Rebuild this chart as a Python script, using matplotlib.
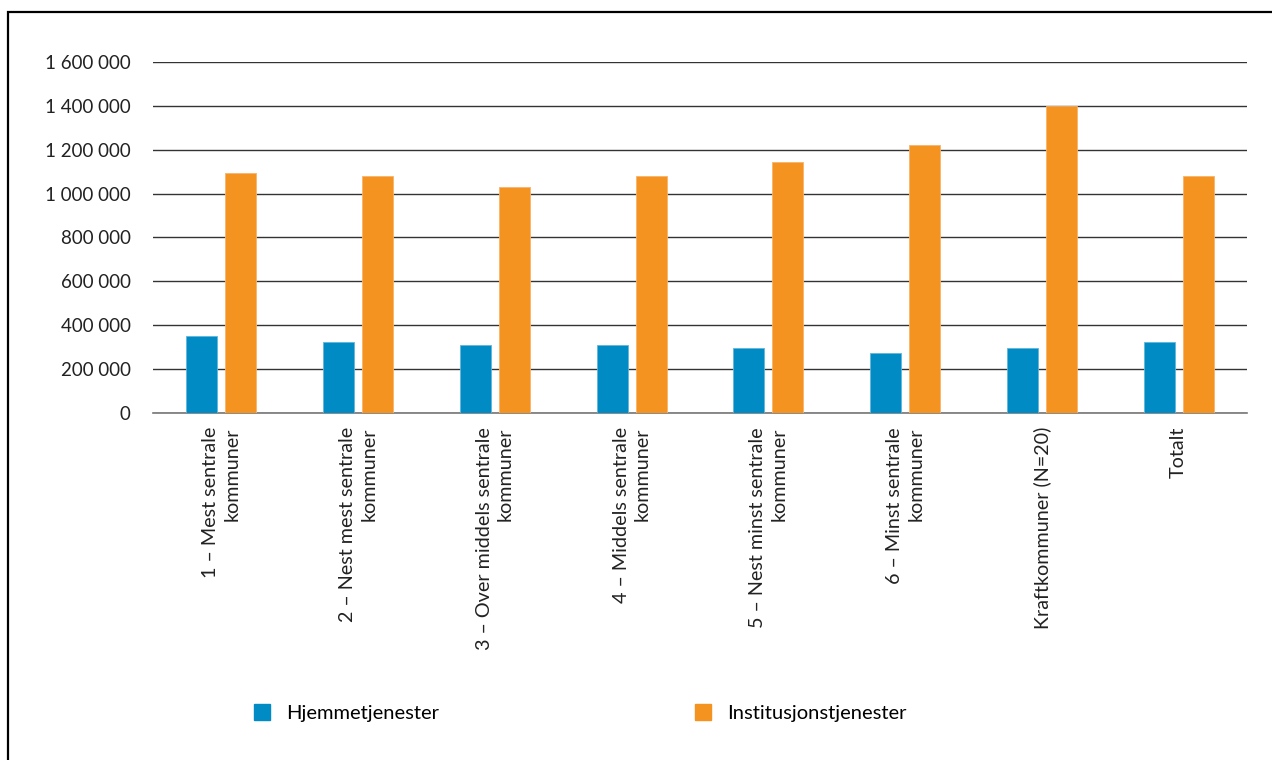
import matplotlib
matplotlib.use('Agg')
import matplotlib.pyplot as plt
import matplotlib.patches as mpatches
import numpy as np

plt.rcParams['font.family'] = ['Lato', 'DejaVu Sans']

# Kategorier og verdier (lest av figuren)
categories = [
    '1 – Mest sentrale\nkommuner',
    '2 – Nest mest sentrale\nkommuner',
    '3 – Over middels sentrale\nkommuner',
    '4 – Middels sentrale\nkommuner',
    '5 – Nest minst sentrale\nkommuner',
    '6 – Minst sentrale\nkommuner',
    'Kraftkommuner (N=20)',
    'Totalt',
]
hjemme = [351000, 323000, 310000, 310000, 297000, 272000, 297000, 322000]
institusjon = [1092000, 1080000, 1028000, 1080000, 1142000, 1220000, 1400000, 1080000]
yticks = [0, 200000, 400000, 600000, 800000, 1000000, 1200000, 1400000, 1600000]

blue = '#008bc4'
orange = '#f49320'

fig = plt.figure(figsize=(12.72, 7.6), dpi=100)
ax = fig.add_axes([153 / 1272, 1 - 413 / 760, (1247 - 153) / 1272, (413 - 62) / 760])

x = np.arange(len(categories))
w = 0.227
off = 0.142
ax.bar(x - off, hjemme, width=w, color=blue, edgecolor='#5fb6dc', linewidth=0.6,
       label='Hjemmetjenester', zorder=3)
ax.bar(x + off, institusjon, width=w, color=orange, edgecolor='#f8b36a', linewidth=0.6,
       label='Institusjonstjenester', zorder=3)

ax.set_xlim(-0.5, len(categories) - 0.5)
ax.set_ylim(0, 1600000)
ax.set_yticks(yticks)
ax.set_yticklabels([f'{v:,}'.replace(',', ' ') for v in yticks], fontsize=13.5, color='#222222')
ax.yaxis.grid(True, color='#333333', linewidth=1.0, zorder=0)
ax.tick_params(axis='y', length=0, pad=16)
ax.tick_params(axis='x', length=0)
ax.set_xticks(x)
ax.set_xticklabels([])
for s in ['top', 'right', 'left']:
    ax.spines[s].set_visible(False)
ax.spines['bottom'].set_color('#777777')
ax.spines['bottom'].set_linewidth(1.2)

for xi, lab in zip(x, categories):
    ax.text(xi, -0.04, lab, transform=ax.get_xaxis_transform(), rotation=90,
            ha='center', va='top', multialignment='right', fontsize=14.2,
            color='#222222', linespacing=1.3)

handles = [mpatches.Patch(color=blue, label='Hjemmetjenester'),
           mpatches.Patch(color=orange, label='Institusjonstjenester')]
fig.legend(handles=handles, loc='center left', bbox_to_anchor=(236 / 1272, 1 - 713 / 760),
           ncol=2, frameon=False, fontsize=14.5, handlelength=0.8, handleheight=0.8,
           handletextpad=0.8, columnspacing=12.7)

# ramme rundt figuren
frame = mpatches.Rectangle((8 / 1272, -0.1), 1.2, 1 - 12 / 760 + 0.1, transform=fig.transFigure,
                           fill=False, edgecolor='black', linewidth=1.6)
fig.patches.append(frame)

fig.savefig('out.png', dpi=100)
